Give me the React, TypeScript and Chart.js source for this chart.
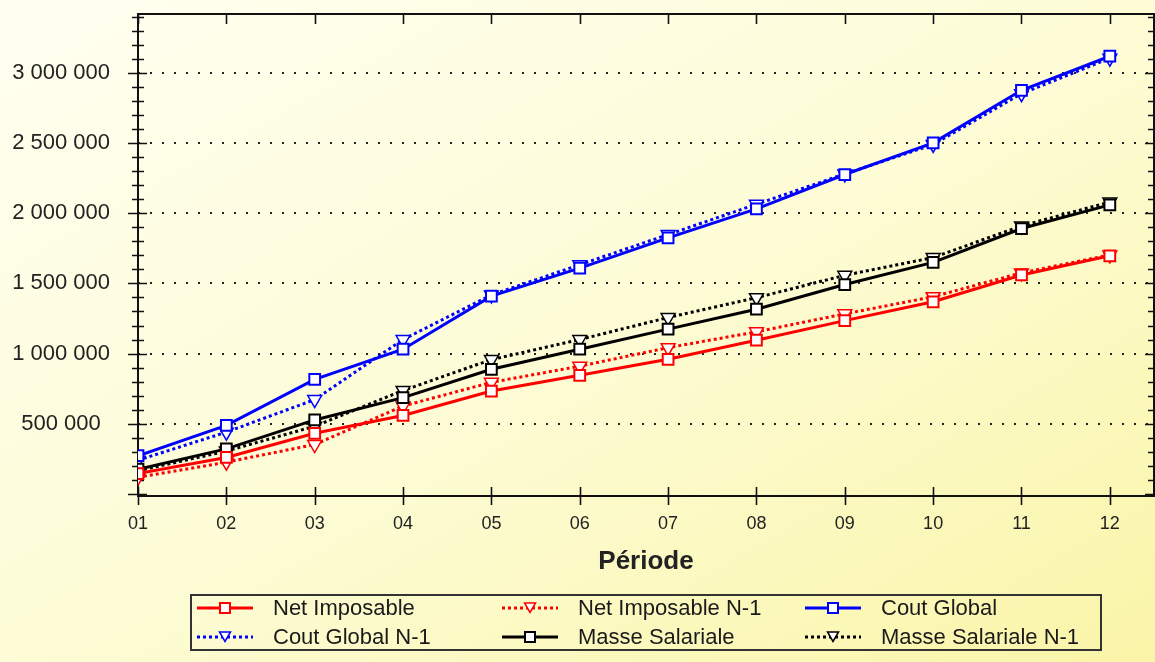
import React, { useEffect, useRef } from 'react';
import { Chart, registerables } from 'chart.js';

Chart.register(...registerables);

const categories = ['01', '02', '03', '04', '05', '06', '07', '08', '09', '10', '11', '12'];

const netImposable = [145000, 260000, 432000, 559000, 733000, 845000, 959000, 1095000, 1235000, 1369000, 1560000, 1697000];
const netImposableN1 = [118000, 226000, 352000, 626000, 795000, 910000, 1042000, 1155000, 1283000, 1405000, 1575000, 1703000];
const coutGlobal = [272000, 488000, 816000, 1031000, 1409000, 1609000, 1824000, 2031000, 2276000, 2502000, 2876000, 3119000];
const coutGlobalN1 = [240000, 440000, 672000, 1100000, 1418000, 1633000, 1848000, 2064000, 2280000, 2490000, 2852000, 3105000];
const masseSalariale = [176000, 321000, 527000, 686000, 888000, 1031000, 1174000, 1316000, 1492000, 1650000, 1891000, 2060000];
const masseSalarialeN1 = [165000, 305000, 482000, 737000, 957000, 1100000, 1257000, 1398000, 1558000, 1684000, 1910000, 2080000];

const seriesNames = ['Net Imposable', 'Net Imposable N-1', 'Cout Global', 'Cout Global N-1', 'Masse Salariale', 'Masse Salariale N-1'];
const seriesValues = [netImposable, netImposableN1, coutGlobal, coutGlobalN1, masseSalariale, masseSalarialeN1];
const seriesColors = ['#ff0000', '#ff0000', '#0000ff', '#0000ff', '#000000', '#000000'];
const seriesDotted = [false, true, false, true, false, true];

const yMin = -15000;
const yMax = 3420000;
const yMinorStep = 100000;
const yMajorStep = 500000;
const xTitle = 'Période';

const FONT = '"Liberation Sans", Arial, sans-serif';

function formatNumber(v: number): string {
  return String(Math.round(v)).replace(/\B(?=(\d{3})+(?!\d))/g, ' ');
}

const axisDecor = {
  id: 'axisDecor',
  beforeDatasetsDraw(chart: any) {
    const { ctx, chartArea: a, scales } = chart;
    const xs = scales.x;
    const ys = scales.y;
    ctx.save();
    ctx.strokeStyle = '#111';
    ctx.lineWidth = 2;
    ctx.setLineDash([]);
    ctx.beginPath();
    ctx.rect(a.left, a.top, a.right - a.left, a.bottom - a.top);
    ctx.stroke();

    ctx.lineWidth = 1.6;
    ctx.beginPath();
    ys.ticks.forEach((t: any) => {
      const py = Math.round(ys.getPixelForValue(t.value)) + 0.5;
      const major = t.value % yMajorStep === 0;
      ctx.moveTo(a.left - (major ? 10 : 6), py);
      ctx.lineTo(a.left + (major ? 9 : 6), py);
      ctx.moveTo(a.right - (major ? 9 : 6), py);
      ctx.lineTo(a.right, py);
    });
    xs.ticks.forEach((t: any) => {
      const px = Math.round(xs.getPixelForValue(t.value)) + 0.5;
      ctx.moveTo(px, a.bottom - 9);
      ctx.lineTo(px, a.bottom + 9);
      ctx.moveTo(px, a.top);
      ctx.lineTo(px, a.top + 10);
    });
    ctx.stroke();

    ctx.fillStyle = '#222';
    ctx.font = 'bold 26px ' + FONT;
    ctx.textAlign = 'center';
    ctx.textBaseline = 'middle';
    ctx.fillText(xTitle, (a.left + a.right) / 2, a.bottom + 66);
    ctx.restore();
  },
};

function LegendSample({ color, dotted }: { color: string; dotted: boolean }) {
  return (
    <svg width={56} height={20} style={{ display: 'block' }}>
      <line x1={0} y1={10} x2={56} y2={10} stroke={color} strokeWidth={3} strokeDasharray={dotted ? '3 3' : undefined} />
      {dotted ? (
        <polygon points="22.5,5 33.5,5 28,14.5" fill="#fff" stroke={color} strokeWidth={1.5} />
      ) : (
        <rect x={23} y={5} width={10} height={10} fill="#fff" stroke={color} strokeWidth={2} />
      )}
    </svg>
  );
}

export default function App() {
  const canvasRef = useRef<HTMLCanvasElement | null>(null);

  useEffect(() => {
    const canvas = canvasRef.current;
    if (!canvas) return;
    const datasets = seriesNames.map((name, si) => {
      const dotted = seriesDotted[si];
      const color = seriesColors[si];
      return {
        label: name,
        data: seriesValues[si].map((v, i) => ({ x: i + 1, y: v })),
        borderColor: color,
        backgroundColor: color,
        borderWidth: 3,
        borderDash: dotted ? [3, 3] : [],
        tension: 0,
        fill: false,
        pointStyle: dotted ? 'triangle' : 'rect',
        pointRotation: dotted ? 180 : 0,
        pointRadius: dotted ? 8 : 7.6,
        pointBorderWidth: dotted ? 1.5 : 2,
        pointBackgroundColor: '#ffffff',
        pointBorderColor: color,
        order: dotted ? 1 : 0,
      };
    });

    const chart = new Chart(canvas, {
      type: 'line',
      data: { datasets: datasets as any },
      plugins: [axisDecor],
      options: {
        animation: false,
        responsive: false,
        maintainAspectRatio: false,
        layout: { autoPadding: false, padding: { top: 14, right: 1, left: 0, bottom: 0 } },
        plugins: { legend: { display: false }, tooltip: { enabled: false } },
        events: [],
        scales: {
          x: {
            type: 'linear',
            min: 1,
            max: categories.length + 0.5,
            grid: { display: false, drawTicks: false },
            border: { display: false },
            ticks: {
              stepSize: 1,
              includeBounds: false,
              autoSkip: false,
              maxRotation: 0,
              padding: 17,
              color: '#222',
              font: { family: FONT, size: 18 },
              callback: (v: any) => (Number.isInteger(v) && v >= 1 && v <= categories.length ? categories[v - 1] : ''),
            },
            afterBuildTicks: (scale: any) => {
              scale.ticks = categories.map((_, i) => ({ value: i + 1 }));
            },
            afterFit: (scale: any) => {
              scale.height = 166;
              scale.paddingLeft = 0;
              scale.paddingRight = 0;
            },
          },
          y: {
            type: 'linear',
            min: yMin,
            max: yMax,
            grid: {
              drawTicks: false,
              lineWidth: 2,
              color: (c: any) => (c.tick && c.tick.value > 0 && c.tick.value % yMajorStep === 0 ? '#222' : 'rgba(0,0,0,0)'),
            },
            border: { display: false, dash: [2, 10] },
            ticks: {
              autoSkip: false,
              crossAlign: 'center',
              padding: 28,
              color: '#222',
              font: { family: FONT, size: 22 },
              callback: (v: any) => (v > 0 && v % yMajorStep === 0 ? formatNumber(v) : ''),
            },
            afterBuildTicks: (scale: any) => {
              const t: any[] = [];
              for (let v = 0; v <= yMax; v += yMinorStep) t.push({ value: v });
              scale.ticks = t;
            },
            afterFit: (scale: any) => {
              scale.width = 138;
              scale.paddingTop = 0;
              scale.paddingBottom = 0;
            },
          },
        },
      } as any,
    });
    return () => chart.destroy();
  }, []);

  const colX = [197, 502, 805];
  const rowY = [608, 637];

  return (
    <div
      style={{
        position: 'fixed',
        left: 0,
        top: 0,
        width: 1155,
        height: 662,
        overflow: 'hidden',
        background: 'linear-gradient(to bottom right, #fffff2 0%, #fdfcd6 50%, #faf5a8 100%)',
        fontFamily: FONT,
      }}
    >
      <canvas ref={canvasRef} width={1155} height={662} style={{ position: 'absolute', left: 0, top: 0 }} />
      <div
        style={{
          position: 'absolute',
          left: 190,
          top: 594,
          width: 912,
          height: 57,
          boxSizing: 'border-box',
          border: '2px solid #333',
        }}
      />
      {seriesNames.map((name, i) => (
        <div
          key={name}
          style={{
            position: 'absolute',
            left: colX[i % 3],
            top: rowY[Math.floor(i / 3)] - 12,
            height: 24,
            display: 'flex',
            alignItems: 'center',
            whiteSpace: 'nowrap',
          }}
        >
          <LegendSample color={seriesColors[i]} dotted={seriesDotted[i]} />
          <span style={{ marginLeft: 20, fontSize: 22, color: '#1a1a1a', lineHeight: '24px' }}>{name}</span>
        </div>
      ))}
    </div>
  );
}
